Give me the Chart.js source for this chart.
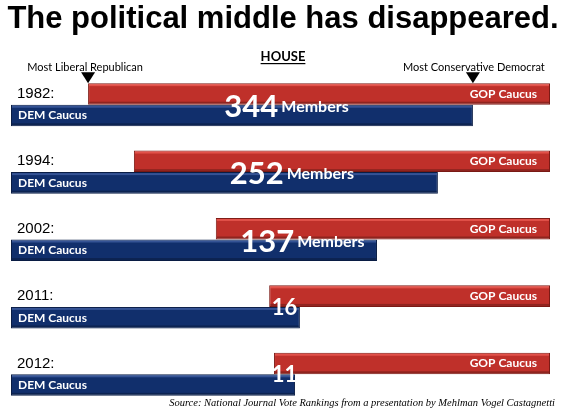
<!DOCTYPE html>
<html>
<head>
<meta charset="utf-8">
<script src="https://cdn.jsdelivr.net/npm/chart.js@4"></script>
<style>
  html, body { margin: 0; padding: 0; background: #fff; }
  #wrap { width: 565px; height: 409px; position: relative; }
</style>
</head>
<body>
<div id="wrap"><canvas id="chart"></canvas></div>
<script>
// ideology rank scale, 0 = most liberal, 100 = most conservative
const years = ['1982:', '1994:', '2002:', '2011:', '2012:'];
const gopStart = [14.3, 22.8, 38.0, 47.9, 48.8];
const gopEnd = [100, 100, 100, 100, 100];
const demStart = [0, 0, 0, 0, 0];
const demEnd = [85.7, 79.2, 67.9, 53.6, 52.7];
const overlapCount = ['344', '252', '137', '16', '11'];
const overlapWord = ['Members', 'Members', 'Members', '', ''];

const RED = '#bf302a';
const BLUE = '#112f6c';

const labelsPlugin = {
    id: 'labels',
    afterDatasetsDraw(chart) {
        const ctx = chart.ctx;
        const xs = chart.scales.x;
        const gop = chart.getDatasetMeta(0).data;
        const dem = chart.getDatasetMeta(1).data;

        // top highlight / bottom shade on each bar
        [gop, dem].forEach((bars, k) => {
            bars.forEach(el => {
                const p = el.getProps(['x', 'y', 'base', 'height'], true);
                const left = Math.min(p.x, p.base), right = Math.max(p.x, p.base);
                const top = p.y - p.height / 2;
                ctx.save();
                ctx.fillStyle = k === 0 ? 'rgba(255,110,100,0.55)' : 'rgba(90,120,190,0.5)';
                ctx.fillRect(left + 1, top + 1, right - left - 2, 2);
                ctx.fillStyle = 'rgba(0,0,0,0.25)';
                ctx.fillRect(left + 1, top + p.height - 3, right - left - 2, 2);
                ctx.restore();
            });
        });

        ctx.save();
        // title
        ctx.fillStyle = '#000';
        ctx.textAlign = 'center';
        ctx.textBaseline = 'middle';
        ctx.font = 'bold 31px "Liberation Sans", Arial, sans-serif';
        ctx.fillText('The political middle has disappeared.', 283, 19);

        // HOUSE
        ctx.font = 'bold 13px Lato, sans-serif';
        ctx.fillText('HOUSE', 283, 57);
        const hw = ctx.measureText('HOUSE').width;
        ctx.fillRect(283 - hw / 2, 63, hw, 1.2);

        // markers
        const tl = xs.getPixelForValue(gopStart[0]);
        const tr = xs.getPixelForValue(demEnd[0]);
        const barTop = gop[0].y - gop[0].height / 2;
        [tl, tr].forEach(x => {
            ctx.beginPath();
            ctx.moveTo(x - 7, barTop - 11);
            ctx.lineTo(x + 7, barTop - 11);
            ctx.lineTo(x, barTop);
            ctx.closePath();
            ctx.fill();
        });
        ctx.font = '11px Lato, sans-serif';
        ctx.fillText('Most Liberal Republican', tl - 3, 67);
        ctx.fillText('Most Conservative Democrat', tr + 1, 67);

        years.forEach((yr, i) => {
            const g = gop[i], d = dem[i];
            // year
            ctx.textAlign = 'left';
            ctx.fillStyle = '#000';
            ctx.font = '15px "Liberation Sans", Arial, sans-serif';
            ctx.fillText(yr, 17, g.y);
            // bar captions
            ctx.fillStyle = '#fff';
            ctx.font = 'bold 12px Lato, sans-serif';
            ctx.fillText('DEM Caucus', 18, d.y);
            ctx.textAlign = 'right';
            ctx.fillText('GOP Caucus', xs.getPixelForValue(gopEnd[i]) - 13, g.y);

            // overlap count
            const mid = (xs.getPixelForValue(gopStart[i]) + xs.getPixelForValue(demEnd[i])) / 2;
            const yMid = (g.y + d.y) / 2;
            ctx.textAlign = 'left';
            ctx.textBaseline = 'alphabetic';
            const big = i < 3 ? 'bold 31px Lato, sans-serif' : 'bold 22px Lato, sans-serif';
            ctx.font = big;
            const nw = ctx.measureText(overlapCount[i]).width;
            ctx.font = 'bold 16px Lato, sans-serif';
            const ww = overlapWord[i] ? ctx.measureText(overlapWord[i]).width + 3 : 0;
            let x0 = mid - (nw + ww) / 2 + (i < 3 ? 6 : 0);
            ctx.font = big;
            ctx.fillText(overlapCount[i], x0, yMid + (i < 3 ? 12 : 8));
            if (overlapWord[i]) {
                ctx.font = 'bold 16px Lato, sans-serif';
                ctx.fillText(overlapWord[i], x0 + nw + 3, yMid + 7);
            }
            ctx.textBaseline = 'middle';
        });

        // source
        ctx.textAlign = 'right';
        ctx.fillStyle = '#000';
        ctx.font = 'italic 10.5px "Liberation Serif", "Times New Roman", serif';
        ctx.fillText('Source: National Journal Vote Rankings from a presentation by Mehlman Vogel Castagnetti', 555, 403);
        ctx.restore();
    }
};

new Chart(document.getElementById('chart'), {
    type: 'bar',
    data: {
        labels: years,
        datasets: [{
            label: 'GOP Caucus',
            data: gopStart.map((s, i) => [s, gopEnd[i]]),
            backgroundColor: RED,
            borderColor: '#7c1a15',
            borderWidth: 1,
            borderSkipped: false
        }, {
            label: 'DEM Caucus',
            data: demStart.map((s, i) => [s, demEnd[i]]),
            backgroundColor: BLUE,
            borderColor: '#0a1d45',
            borderWidth: 1,
            borderSkipped: false
        }]
    },
    options: {
        indexAxis: 'y',
        responsive: true,
        maintainAspectRatio: false,
        animation: false,
        categoryPercentage: 0.64,
        barPercentage: 1.0,
        layout: {
            padding: { left: 11, right: 15, top: 71, bottom: 1 }
        },
        plugins: {
            legend: { display: false },
            tooltip: { enabled: false }
        },
        scales: {
            x: { display: false, min: 0, max: 100 },
            y: { display: false }
        }
    },
    plugins: [labelsPlugin]
});
</script>
</body>
</html>
